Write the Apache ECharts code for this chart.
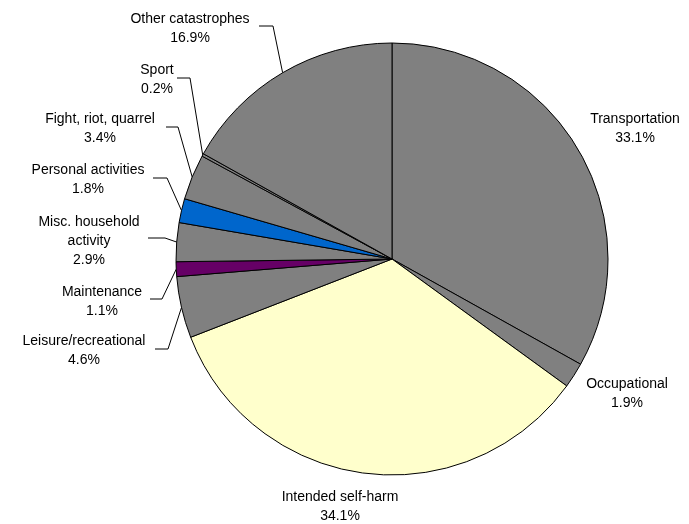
<!DOCTYPE html>
<html>
<head>
<meta charset="utf-8">
<script src="https://cdn.jsdelivr.net/npm/echarts@6/dist/echarts.min.js"></script>
<style>
  html, body { margin: 0; padding: 0; background: #ffffff; }
  #chart { width: 689px; height: 524px; }
</style>
</head>
<body>
<div id="chart"></div>
<script>
// Injury deaths by activity, share of total (%), clockwise from 12 o'clock
const categories = [
  'Transportation',
  'Occupational',
  'Intended self-harm',
  'Leisure/recreational',
  'Maintenance',
  'Misc. household\nactivity',
  'Personal activities',
  'Fight, riot, quarrel',
  'Sport',
  'Other catastrophes'
];
const shares = [33.1, 1.9, 34.1, 4.6, 1.1, 2.9, 1.8, 3.4, 0.2, 16.9];
const sliceColors = ['#808080', '#808080', '#FFFFCC', '#808080', '#660066',
                     '#808080', '#0066CC', '#808080', '#808080', '#808080'];

// Label placement: block centre, and for leader lines the text-side end and the elbow x
const labelSpots = [
  { x: 635, y: 129 },
  { x: 627, y: 394 },
  { x: 340, y: 507 },
  { x: 84,  y: 351, start: [155, 349], knee: 168 },
  { x: 102, y: 302, start: [150, 299], knee: 162 },
  { x: 89,  y: 241, start: [148, 238], knee: 165 },
  { x: 88,  y: 180, start: [153, 178], knee: 167 },
  { x: 100, y: 129, start: [166, 127], knee: 178 },
  { x: 157, y: 80,  start: [177, 78],  knee: 190 },
  { x: 190, y: 29,  start: [259, 26],  knee: 273 }
];

const chart = echarts.init(document.getElementById('chart'), null, { renderer: 'canvas' });

const seriesData = categories.map((name, i) => ({
  name: name,
  value: shares[i],
  itemStyle: { color: sliceColors[i] },
  labelLine: { show: !!labelSpots[i].start }
}));

chart.setOption({
  backgroundColor: '#ffffff',
  animation: false,
  series: [{
    type: 'pie',
    center: [392, 259],
    radius: 216,
    startAngle: 90,
    clockwise: true,
    avoidLabelOverlap: false,
    data: seriesData,
    itemStyle: { borderColor: '#000000', borderWidth: 1 },
    emphasis: { disabled: true },
    label: {
      show: true,
      position: 'outside',
      color: '#000000',
      fontFamily: 'Liberation Sans, Arial, sans-serif',
      fontSize: 14,
      lineHeight: 19,
      align: 'center',
      formatter: p => p.name + '\n' + p.value.toFixed(1) + '%'
    },
    labelLine: {
      show: true,
      length: 10,
      length2: 10,
      smooth: false,
      lineStyle: { color: '#000000', width: 1 }
    },
    labelLayout: function (params) {
      const spot = labelSpots[params.dataIndex];
      const out = { x: spot.x, y: spot.y, align: 'center', verticalAlign: 'middle' };
      if (spot.start && params.labelLinePoints) {
        const edge = params.labelLinePoints[0];
        out.labelLinePoints = [
          [edge[0], edge[1]],
          [spot.knee, spot.start[1]],
          [spot.start[0], spot.start[1]]
        ];
      }
      return out;
    }
  }]
});
</script>
</body>
</html>
